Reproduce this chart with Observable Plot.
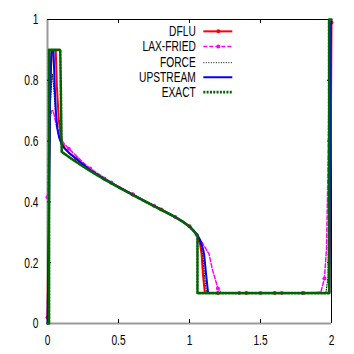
<!DOCTYPE html>
<html>
<head>
<meta charset="utf-8">
<script src="https://cdn.jsdelivr.net/npm/d3@7"></script>
<script src="https://cdn.jsdelivr.net/npm/@observablehq/plot@0.6"></script>
<style>
  html, body { margin: 0; padding: 0; background: #fff; }
</style>
</head>
<body>
<script>
// ---- Data ----
const xTicks = [0, 0.5, 1, 1.5, 2];
const xTickLabels = ["0", "0.5", "1", "1.5", "2"];
const yTicks = [0, 0.2, 0.4, 0.6, 0.8, 1];
const yTickLabels = ["0", "0.2", "0.4", "0.6", "0.8", "1"];

const seriesNames = ["DFLU", "LAX-FRIED", "FORCE", "UPSTREAM", "EXACT"];

const dfluX = [0, 0.01, 0.02, 0.03, 0.04, 0.058, 0.066, 0.08, 0.094, 0.12, 0.15, 0.2, 0.25, 0.3, 0.4, 0.5, 0.6, 0.7, 0.8, 0.9, 0.95, 1.0, 1.03, 1.06, 1.075, 1.085, 1.095, 1.108, 1.2, 1.4, 1.6, 1.8, 1.985, 1.995, 2.0];
const dfluY = [0.02, 0.45, 0.8, 0.89, 0.9, 0.9, 0.78, 0.667, 0.612, 0.578, 0.562, 0.543, 0.522, 0.505, 0.476, 0.449, 0.424, 0.399, 0.375, 0.35, 0.337, 0.32, 0.305, 0.285, 0.26, 0.228, 0.16, 0.1, 0.1, 0.1, 0.1, 0.1, 0.1, 0.6, 0.99];
const dfluMarkX = [0, 0.2, 0.4, 0.6, 0.8, 1.0, 1.2, 1.4, 1.6, 1.8, 2.0];

const laxX = [0, 0.01, 0.02, 0.03, 0.04, 0.05, 0.06, 0.08, 0.1, 0.12, 0.15, 0.2, 0.25, 0.3, 0.45, 0.6, 0.75, 0.9, 1.0, 1.03, 1.05, 1.06, 1.09, 1.11, 1.138, 1.16, 1.185, 1.2, 1.22, 1.25, 1.35, 1.5, 1.65, 1.8, 1.925, 1.95, 1.965, 1.975, 1.985, 1.995];
const laxY = [0.415, 0.6, 0.68, 0.7, 0.7, 0.68, 0.655, 0.625, 0.6, 0.59, 0.575, 0.553, 0.53, 0.51, 0.464, 0.425, 0.387, 0.35, 0.318, 0.303, 0.292, 0.285, 0.265, 0.25, 0.228, 0.18, 0.14, 0.115, 0.102, 0.1, 0.1, 0.1, 0.1, 0.1, 0.103, 0.148, 0.246, 0.5, 0.85, 0.98];
const laxMarkX = [0, 0.15, 0.3, 0.45, 0.6, 0.75, 0.9, 1.05, 1.2, 1.35, 1.5, 1.65, 1.8, 1.95];

const forceX = [0, 0.01, 0.02, 0.03, 0.035, 0.045, 0.055, 0.065, 0.08, 0.1, 0.12, 0.15, 0.2, 0.3, 0.4, 0.5, 0.6, 0.7, 0.8, 0.9, 1.0, 1.03, 1.06, 1.08, 1.095, 1.105, 1.12, 1.5, 1.96, 1.975, 1.985, 1.995];
const forceY = [0.02, 0.4, 0.72, 0.8, 0.82, 0.77, 0.7, 0.65, 0.615, 0.59, 0.577, 0.562, 0.543, 0.505, 0.476, 0.449, 0.424, 0.399, 0.375, 0.35, 0.32, 0.305, 0.286, 0.26, 0.22, 0.16, 0.1, 0.1, 0.1, 0.15, 0.6, 0.98];

const upX = [0, 0.01, 0.018, 0.028, 0.042, 0.051, 0.06, 0.07, 0.082, 0.1, 0.12, 0.15, 0.2, 0.3, 0.4, 0.5, 0.6, 0.7, 0.8, 0.9, 1.0, 1.03, 1.06, 1.08, 1.095, 1.103, 1.115, 1.131, 1.5, 1.985, 1.99, 1.995, 2.0];
const upY = [0, 0.3, 0.75, 0.9, 0.9, 0.777, 0.69, 0.64, 0.612, 0.588, 0.576, 0.562, 0.543, 0.505, 0.476, 0.449, 0.424, 0.399, 0.375, 0.35, 0.32, 0.305, 0.288, 0.27, 0.245, 0.228, 0.17, 0.1, 0.1, 0.1, 0.6, 0.98, 0.995];

const exactX = [0, 0.011, 0.011, 0.09, 0.1, 0.15, 0.2, 0.3, 0.4, 0.5, 0.6, 0.7, 0.8, 0.9, 0.95, 1.0, 1.03, 1.056, 1.056, 1.983, 1.983, 2.0];
const exactY = [0, 0, 0.9, 0.9, 0.565, 0.548, 0.532, 0.502, 0.474, 0.448, 0.423, 0.398, 0.374, 0.35, 0.336, 0.318, 0.304, 0.29, 0.1, 0.1, 1.0, 1.0];

// ---- Build tables ----
const zip = (xs, ys) => xs.map((x, i) => ({x, y: ys[i]}));
const dflu = zip(dfluX, dfluY);
const lax = zip(laxX, laxY);
const force = zip(forceX, forceY);
const up = zip(upX, upY);
const exact = zip(exactX, exactY);
const pick = (rows, xs) => xs.map(x => rows.find(r => Math.abs(r.x - x) < 1e-9));
const dfluMarks = pick(dflu, dfluMarkX);
const laxMarks = pick(lax, laxMarkX);

// ---- Styles ----
const styles = [
  {stroke: "#ff0000", strokeWidth: 2, dash: null, marker: true},
  {stroke: "#ff00ff", strokeWidth: 1.5, dash: "4,2", marker: true},
  {stroke: "#000000", strokeWidth: 1, dash: "1,1.5", marker: false},
  {stroke: "#0000ff", strokeWidth: 2, dash: null, marker: false},
  {stroke: "#006400", strokeWidth: 2.6, dash: "2,1.3", marker: false}
];

// legend layout (in axis units)
const legTextX = 1.044, legLineX1 = 1.101, legLineX2 = 1.305, legMarkX = 1.203;
const legRowY = [0.961, 0.911, 0.858, 0.81, 0.761];
const legend = seriesNames.map((name, i) => ({name, y: legRowY[i], ...styles[i]}));

const tickLenX = 0.028, tickLenY = 0.013;
const innerX = xTicks.slice(1, -1);
const innerY = yTicks.slice(1, -1);

const lineMark = (rows, s) => Plot.line(rows, {x: "x", y: "y", stroke: s.stroke, strokeWidth: s.strokeWidth, strokeDasharray: s.dash || undefined, strokeLinejoin: "round", curve: "linear"});

const chart = Plot.plot({
  width: 354,
  height: 354,
  marginLeft: 47,
  marginRight: 23,
  marginTop: 19,
  marginBottom: 31,
  style: {fontFamily: "Liberation Sans, Arial, sans-serif", fontSize: "15px", background: "#fff", color: "#000"},
  x: {domain: [0, 2]},
  y: {domain: [0, 1]},
  marks: [
    Plot.ruleX([0], {stroke: "#9a9a9a", strokeWidth: 2}),
    Plot.ruleY([0], {stroke: "#9a9a9a", strokeWidth: 2}),
    Plot.ruleY([1], {stroke: "#000", strokeWidth: 1}),
    Plot.ruleX([2], {stroke: "#000", strokeWidth: 1}),
    Plot.ruleX(innerX, {x: d => d, y1: 0, y2: tickLenY, stroke: "#000"}),
    Plot.ruleX(innerX, {x: d => d, y1: 1, y2: 1 - tickLenY, stroke: "#000"}),
    Plot.ruleY(innerY, {y: d => d, x1: 0, x2: tickLenX, stroke: "#000"}),
    Plot.ruleY(innerY, {y: d => d, x1: 2, x2: 2 - tickLenX, stroke: "#000"}),
    Plot.axisX({ticks: xTicks, tickSize: 0, tickPadding: 11, label: null, tickFormat: (d) => xTickLabels[xTicks.indexOf(d)], fontSize: 15}),
    Plot.axisY({ticks: yTicks, tickSize: 0, tickPadding: 9, label: null, tickFormat: (d) => yTickLabels[yTicks.indexOf(d)], fontSize: 15}),
    lineMark(dflu, styles[0]),
    Plot.dot(dfluMarks, {x: "x", y: "y", r: 2, fill: styles[0].stroke}),
    lineMark(lax, styles[1]),
    Plot.dot(laxMarks, {x: "x", y: "y", r: 2, fill: styles[1].stroke}),
    lineMark(force, styles[2]),
    lineMark(up, styles[3]),
    lineMark(exact, styles[4]),
    // legend
    Plot.text(legend, {x: legTextX, y: "y", text: "name", textAnchor: "end", fontSize: 15, fill: "#000"}),
    ...legend.map(l => Plot.ruleY([l], {y: "y", x1: legLineX1, x2: legLineX2, stroke: l.stroke, strokeWidth: l.strokeWidth, strokeDasharray: l.dash || undefined})),
    Plot.dot(legend.filter(l => l.marker), {x: legMarkX, y: "y", r: 2, fill: "stroke"})
  ]
});
document.body.appendChild(chart);
// gnuplot-style condensed lettering, keeping each label's anchor in place
chart.querySelectorAll("text").forEach(t => {
  const w = t.getComputedTextLength();
  if (!(w > 0)) return;
  const before = t.getBBox();
  const anchor = getComputedStyle(t).textAnchor || t.getAttribute("text-anchor") || "start";
  t.setAttribute("textLength", (w * 0.68).toFixed(2));
  t.setAttribute("lengthAdjust", "spacingAndGlyphs");
  const after = t.getBBox();
  let shift = 0;
  if (anchor === "end") shift = (before.x + before.width) - (after.x + after.width);
  else if (anchor === "middle") shift = (before.x + before.width / 2) - (after.x + after.width / 2);
  else shift = before.x - after.x;
  if (Math.abs(shift) > 0.01) {
    const x0 = parseFloat(t.getAttribute("x") || "0");
    t.setAttribute("x", (x0 + shift).toFixed(2));
  }
});
</script>
</body>
</html>
